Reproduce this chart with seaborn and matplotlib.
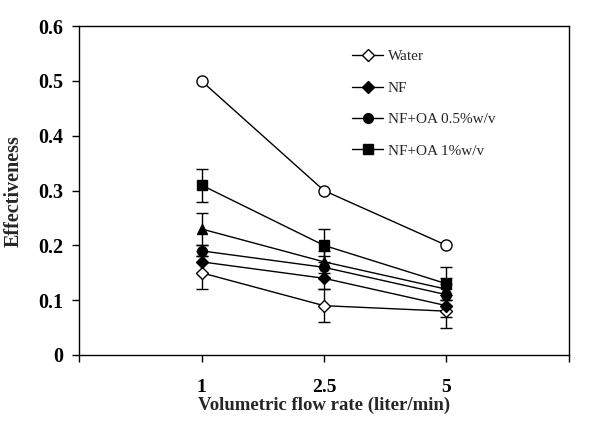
import matplotlib
matplotlib.use("Agg")
import matplotlib.pyplot as plt
import seaborn as sns
import pandas as pd
import numpy as np

# ---- data ----
flow_labels = ["1", "2.5", "5"]
water = [0.15, 0.09, 0.08]
water_err = [0.03, 0.03, 0.03]
nf = [0.17, 0.14, 0.09]
nf_err = [0.02, 0.02, 0.02]
nf_oa05 = [0.19, 0.16, 0.11]
nf_oa05_err = [0.01, 0.02, 0.02]
nf_oa1 = [0.31, 0.20, 0.13]
nf_oa1_err = [0.03, 0.03, 0.03]
tri_series = [0.23, 0.17, 0.12]
tri_err = [0.03, 0.02, 0.02]
open_circle = [0.50, 0.30, 0.20]

sns.set_theme(style="white")
plt.rcParams['font.family'] = ['Liberation Serif', 'DejaVu Serif']

fig = plt.figure(figsize=(6, 4.29), dpi=100)
ax = fig.add_axes([0.1317, 0.1725, 0.8166, 0.7665])

xpos = [1, 2, 3]
series = [
    ("Water", water, water_err, "D", "white", 6),
    ("NF", nf, nf_err, "D", "black", 6),
    ("NF+OA 0.5%w/v", nf_oa05, nf_oa05_err, "o", "black", 7),
    ("NF+OA 1%w/v", nf_oa1, nf_oa1_err, "s", "black", 7),
    ("_tri", tri_series, tri_err, "^", "black", 7.5),
    ("_circ", open_circle, None, "o", "white", 8),
]

for name, vals, err, mk, fc, ms in series:
    df = pd.DataFrame({"x": xpos, "y": vals})
    if err is not None:
        ax.errorbar(xpos, vals, yerr=err, fmt="none", ecolor="black",
                    elinewidth=1, capsize=4, capthick=1, zorder=2)
    sns.lineplot(data=df, x="x", y="y", ax=ax, color="black", lw=1,
                 marker=mk, markersize=ms, markerfacecolor=fc,
                 markeredgecolor="black", markeredgewidth=1,
                 label=name, zorder=3, legend=True)

ax.set_xlim(0, 4)
ax.set_ylim(0, 0.6)
ax.set_xticks([0, 1, 2, 3, 4])
ax.set_xticklabels([""] + flow_labels + [""])
ax.set_yticks(np.arange(0, 0.61, 0.1))
ax.set_yticklabels(["0", "0.1", "0.2", "0.3", "0.4", "0.5", "0.6"])

for sp in ax.spines.values():
    sp.set_color("black")
    sp.set_linewidth(1)

ax.tick_params(axis="x", direction="out", length=5, width=1, pad=12,
               labelsize=14, bottom=True, colors="black")
ax.tick_params(axis="y", direction="out", length=5, width=1, pad=6.5,
               labelsize=14.5, left=True, colors="black")
for lab in ax.get_xticklabels() + ax.get_yticklabels():
    lab.set_fontweight("bold")

ax.set_xlabel("Volumetric flow rate (liter/min)", fontsize=13.5,
              fontweight="bold", labelpad=1)
ax.set_ylabel("Effectiveness", fontsize=14.5, fontweight="bold", labelpad=10)

handles, labels = ax.get_legend_handles_labels()
keep = [(h, l) for h, l in zip(handles, labels) if not l.startswith("_")]
leg = ax.legend([h for h, l in keep], [l for h, l in keep],
                loc="upper left", bbox_to_anchor=(0.53, 0.97), frameon=False,
                fontsize=11, labelspacing=1.16, handlelength=2.0,
                handletextpad=0.3)

fig.savefig("out.png", dpi=100)
